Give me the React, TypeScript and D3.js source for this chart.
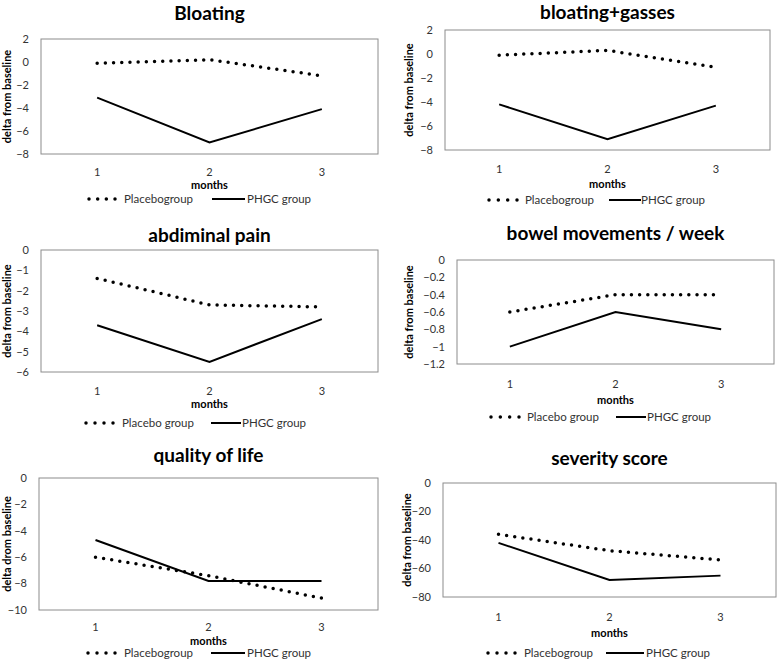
import React from "react";
import * as d3 from "d3";

const months = ["1", "2", "3"];

const bloatingPlacebo = [-0.1, 0.2, -1.2];
const bloatingPHGC = [-3.1, -7.0, -4.1];
const gassesPlacebo = [-0.1, 0.3, -1.1];
const gassesPHGC = [-4.2, -7.1, -4.3];
const painPlacebo = [-1.4, -2.7, -2.8];
const painPHGC = [-3.7, -5.5, -3.4];
const bowelPlacebo = [-0.6, -0.4, -0.4];
const bowelPHGC = [-1.0, -0.6, -0.8];
const qolPlacebo = [-6.0, -7.4, -9.1];
const qolPHGC = [-4.7, -7.8, -7.8];
const severityPlacebo = [-36, -47.5, -54];
const severityPHGC = [-42, -68, -65];

const bloatingTicks = [2, 0, -2, -4, -6, -8];
const painTicks = [0, -1, -2, -3, -4, -5, -6];
const bowelTicks = [0, -0.2, -0.4, -0.6, -0.8, -1, -1.2];
const qolTicks = [0, -2, -4, -6, -8, -10];
const severityTicks = [0, -20, -40, -60, -80];

const legendLabels = ["Placebo group", "PHGC group"];

type PanelCfg = {
  title: string;
  ylabel: string;
  placebo: number[];
  phgc: number[];
  ticks: number[];
  placeboText: string;
  box: [number, number, number, number]; // x0, y0, x1, y1
  titleY: number;
  ylabelX: number;
  tickLabelY: number;
  monthsY: number;
  legendY: number;
  legendDots: [number, number];
  legendText: number;
  legendLine: [number, number];
  legendText2: number;
};

const panels: PanelCfg[] = [
  {
    title: "Bloating", ylabel: "delta from baseline", placebo: bloatingPlacebo, phgc: bloatingPHGC,
    ticks: bloatingTicks, placeboText: "Placebogroup",
    box: [41, 39, 378, 154], titleY: 13, ylabelX: 7, tickLabelY: 172, monthsY: 185.5, legendY: 199,
    legendDots: [89, 115], legendText: 124, legendLine: [212, 245], legendText2: 247,
  },
  {
    title: "bloating+gasses", ylabel: "delta from baseline", placebo: gassesPlacebo, phgc: gassesPHGC,
    ticks: bloatingTicks, placeboText: "Placebogroup",
    box: [445, 30, 770, 150], titleY: 12, ylabelX: 409, tickLabelY: 169, monthsY: 184.5, legendY: 200,
    legendDots: [489, 517], legendText: 525, legendLine: [609, 641], legendText2: 641,
  },
  {
    title: "abdiminal pain", ylabel: "delta from baseline", placebo: painPlacebo, phgc: painPHGC,
    ticks: painTicks, placeboText: legendLabels[0],
    box: [41, 250, 378, 372], titleY: 235, ylabelX: 7, tickLabelY: 391, monthsY: 404.5, legendY: 423,
    legendDots: [86, 113], legendText: 122, legendLine: [211, 241], legendText2: 242,
  },
  {
    title: "bowel movements / week", ylabel: "delta from baseline", placebo: bowelPlacebo, phgc: bowelPHGC,
    ticks: bowelTicks, placeboText: legendLabels[0],
    box: [457, 260, 774, 364], titleY: 233, ylabelX: 409, tickLabelY: 384, monthsY: 400, legendY: 417,
    legendDots: [491, 519], legendText: 527, legendLine: [616, 646], legendText2: 647,
  },
  {
    title: "quality of life", ylabel: "delta drom baseline", placebo: qolPlacebo, phgc: qolPHGC,
    ticks: qolTicks, placeboText: "Placebogroup",
    box: [39, 478, 378, 610], titleY: 455, ylabelX: 7, tickLabelY: 627, monthsY: 641, legendY: 653,
    legendDots: [88, 115], legendText: 124, legendLine: [211, 245], legendText2: 247,
  },
  {
    title: "severity score", ylabel: "delta from baseline", placebo: severityPlacebo, phgc: severityPHGC,
    ticks: severityTicks, placeboText: "Placebogroup",
    box: [443, 483, 776, 597], titleY: 458, ylabelX: 407, tickLabelY: 617, monthsY: 633, legendY: 653,
    legendDots: [488, 515], legendText: 524, legendLine: [606, 644], legendText2: 646,
  },
];

const FONT = "Lato, 'Open Sans', sans-serif";
const TXT = "#333";

function Panel({ c }: { c: PanelCfg }) {
  const [x0, y0, x1, y1] = c.box;
  const x = d3.scalePoint<string>().domain(months).range([x0, x1]).padding(0.5);
  const y = d3.scaleLinear()
    .domain([d3.min(c.ticks) as number, d3.max(c.ticks) as number])
    .range([y1, y0]);
  const line = d3.line<number>().x((_, i) => x(months[i]) as number).y((v) => y(v));
  const legendDots = d3.range(4).map((i) => c.legendDots[0] + (i * (c.legendDots[1] - c.legendDots[0])) / 3);
  const cx = (x0 + x1) / 2;
  return (
    <g>
      <text x={cx} y={c.titleY} dy="0.35em" textAnchor="middle" fontSize={19} fontWeight="bold" fill="#000">
        {c.title}
      </text>
      <rect x={x0} y={y0} width={x1 - x0} height={y1 - y0} fill="none" stroke="#8c8c8c" strokeWidth={1} />
      {c.ticks.map((t) => (
        <text key={t} x={x0 - 12} y={y(t)} dy="0.35em" textAnchor="end" fontSize={11} fill={TXT}>
          {d3.format("~g")(t)}
        </text>
      ))}
      {months.map((m) => (
        <text key={m} x={x(m)} y={c.tickLabelY} dy="0.35em" textAnchor="middle" fontSize={11} fill={TXT}>
          {m}
        </text>
      ))}
      <text x={cx} y={c.monthsY} dy="0.35em" textAnchor="middle" fontSize={11} fontWeight="bold" fill="#000">
        months
      </text>
      <text
        transform={`translate(${c.ylabelX},${(y0 + y1) / 2}) rotate(-90)`}
        dy="0.35em"
        textAnchor="middle"
        fontSize={11}
        fontWeight="bold"
        fill="#000"
      >
        {c.ylabel}
      </text>
      <path d={line(c.placebo) as string} fill="none" stroke="#000" strokeWidth={3.5}
        strokeLinecap="round" strokeDasharray="0 8.2" />
      <path d={line(c.phgc) as string} fill="none" stroke="#000" strokeWidth={2} />
      {legendDots.map((lx, i) => (
        <circle key={i} cx={lx} cy={c.legendY} r={1.75} fill="#000" />
      ))}
      <text x={c.legendText} y={c.legendY} dy="0.35em" fontSize={11.5} fill={TXT}>
        {c.placeboText}
      </text>
      <line x1={c.legendLine[0]} x2={c.legendLine[1]} y1={c.legendY} y2={c.legendY} stroke="#000" strokeWidth={2} />
      <text x={c.legendText2} y={c.legendY} dy="0.35em" fontSize={11.5} fill={TXT}>
        {legendLabels[1]}
      </text>
    </g>
  );
}

export default function App() {
  return (
    <svg width={778} height={662} style={{ position: "absolute", left: 0, top: 0, background: "#fff" }}
      fontFamily={FONT}>
      <rect width={778} height={662} fill="#fff" />
      {panels.map((c) => (
        <Panel key={c.title} c={c} />
      ))}
    </svg>
  );
}
